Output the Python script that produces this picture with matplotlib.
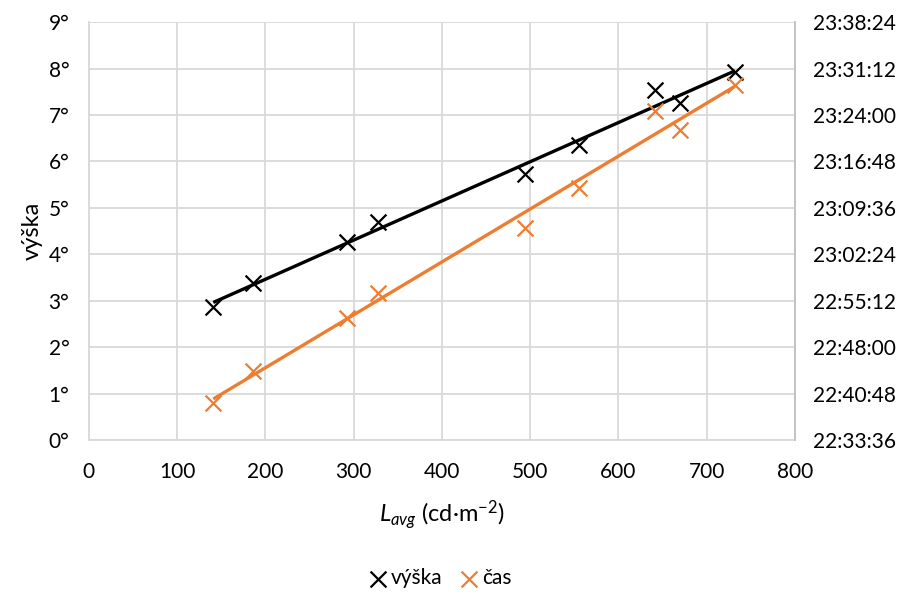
"""
plot.py

Luminance vs. solar altitude / time, with linear trendlines.
"""
import numpy as np
import matplotlib
import matplotlib.pyplot as plt
from matplotlib.ticker import FuncFormatter, MultipleLocator

matplotlib.use('Agg')

# Data
lavg = [141, 186, 292, 328, 494, 555, 641, 670, 732]
vyska = [2.87, 3.38, 4.27, 4.70, 5.73, 6.36, 7.54, 7.26, 7.93]
cas = ['22:39:22', '22:44:20', '22:52:32', '22:56:25', '23:06:30',
       '23:12:42', '23:24:39', '23:21:42', '23:28:41']

time_ticks_start = '22:33:36'
time_step = 432  # seconds, 7:12

BLACK = '#000000'
ORANGE = '#ED7D31'
GRID = '#D9D9D9'

plt.rcParams['font.family'] = ['Lato', 'DejaVu Sans']
plt.rcParams['mathtext.fontset'] = 'custom'
plt.rcParams['mathtext.rm'] = 'Lato'
plt.rcParams['mathtext.it'] = 'Lato:italic'


def to_seconds(t):
    h, m, s = (int(v) for v in t.split(':'))
    return h * 3600 + m * 60 + s


def fmt_time(v, pos=None):
    v = int(round(v))
    return f"{v // 3600:02d}:{(v % 3600) // 60:02d}:{v % 60:02d}"


cas_s = [to_seconds(t) for t in cas]
t0 = to_seconds(time_ticks_start)

fig = plt.figure(figsize=(9.06, 5.97), dpi=100)
ax = fig.add_axes([0.098, 0.263, 0.7795, 0.700])
ax2 = ax.twinx()

# Scatter + trendlines
x = np.array(lavg)
fit1 = np.polyfit(x, vyska, 1)
fit2 = np.polyfit(x, cas_s, 1)
xs = np.array([x.min(), x.max()])

ax.plot(xs, np.polyval(fit1, xs), color=BLACK, lw=2.4, zorder=3, solid_capstyle='butt')
ax.scatter(lavg, vyska, marker='x', s=130, color=BLACK, linewidths=1.6, zorder=4)

ax2.plot(xs, np.polyval(fit2, xs), color=ORANGE, lw=2.4, zorder=3, solid_capstyle='butt')
ax2.scatter(lavg, cas_s, marker='x', s=130, color=ORANGE, linewidths=1.6, zorder=4)

# Axes
ax.set_xlim(0, 800)
ax.set_ylim(0, 9)
ax.xaxis.set_major_locator(MultipleLocator(100))
ax.yaxis.set_major_locator(MultipleLocator(1))
ax.yaxis.set_major_formatter(FuncFormatter(lambda v, p: f"{int(v)}°"))
ax.grid(True, color=GRID, lw=1.3)
ax.set_axisbelow(True)

ax2.set_ylim(t0, t0 + 9 * time_step)
ax2.set_yticks([t0 + i * time_step for i in range(10)])
ax2.yaxis.set_major_formatter(FuncFormatter(fmt_time))

for a in (ax, ax2):
    for side in ('top', 'right', 'left', 'bottom'):
        a.spines[side].set_visible(False)
    a.tick_params(length=0, labelsize=15, labelcolor='#000000')

ax.tick_params(axis='x', pad=16)
ax.tick_params(axis='y', pad=14)
ax2.tick_params(axis='y', pad=13)

ax.spines['left'].set_visible(True)
ax.spines['left'].set_color(GRID)
ax.spines['left'].set_linewidth(1.3)
ax.spines['bottom'].set_visible(True)
ax.spines['bottom'].set_color(GRID)
ax.spines['bottom'].set_linewidth(1.3)
ax2.spines['right'].set_visible(True)
ax2.spines['right'].set_color('#BFBFBF')
ax2.spines['right'].set_linewidth(1.3)

ax.set_ylabel('výška', fontsize=17, labelpad=4)
ax.set_xlabel(r'$L_{avg}$ (cd·m$^{-2}$)', fontsize=17, labelpad=12)

# Legend
h1 = ax.scatter([], [], marker='x', s=130, color=BLACK, linewidths=1.6)
h2 = ax.scatter([], [], marker='x', s=130, color=ORANGE, linewidths=1.6)
fig.legend([h1, h2], ['výška', 'čas'], loc='center', bbox_to_anchor=(0.485, 0.031),
           ncol=2, frameon=False, fontsize=15, handletextpad=0.1, columnspacing=0.8,
           handlelength=1.0)

fig.savefig('out.png', dpi=100)
